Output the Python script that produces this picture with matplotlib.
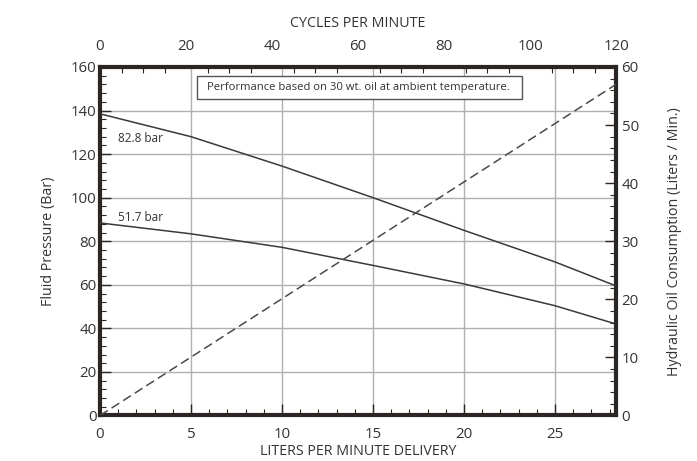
import matplotlib
matplotlib.use("Agg")
import matplotlib.pyplot as plt
from matplotlib.patches import Rectangle
from matplotlib.ticker import MultipleLocator

plt.rcParams["font.family"] = ["Open Sans", "DejaVu Sans"]

# liters per minute delivery (bottom axis)
liters = [0, 5, 10, 15, 20, 25, 28.35]
# fluid pressure curves (bar)
p_828 = [138.5, 128, 114.5, 100, 85, 70.5, 59.5]
p_517 = [88.4, 83.4, 77.2, 68.9, 60.4, 50.4, 42]
# hydraulic oil consumption (liters / min), right axis
oil_x = [0, 28.35]
oil_y = [0, 57]

X_MAX = 28.35
INK = "#2b2523"
TXT = "#333333"
GRID = "#b0b0b0"

fig = plt.figure(figsize=(6.97, 4.61), dpi=100)
ax = fig.add_axes([0.1435, 0.0987, 0.7403, 0.756])

ax.plot(liters, p_828, color="#3a3a3a", lw=1.1, zorder=3)
ax.plot(liters, p_517, color="#3a3a3a", lw=1.1, zorder=3)

ax.set_xlim(0, X_MAX)
ax.set_ylim(0, 160)
ax.xaxis.set_major_locator(MultipleLocator(5))
ax.xaxis.set_minor_locator(MultipleLocator(1))
ax.yaxis.set_major_locator(MultipleLocator(20))
ax.yaxis.set_minor_locator(MultipleLocator(4))
ax.grid(True, which="major", color=GRID, lw=1.0)
ax.set_axisbelow(True)

for s in ax.spines.values():
    s.set_linewidth(3)
    s.set_color(INK)

ax.tick_params(which="both", direction="in", colors=INK, labelcolor=TXT,
               labelsize=10.8)
ax.tick_params(axis="x", pad=8)
ax.tick_params(axis="y", pad=2.5)
ax.tick_params(which="major", length=8, width=1)
ax.tick_params(which="minor", length=4, width=0.8)
ax.set_xlabel("LITERS PER MINUTE DELIVERY", fontsize=10.3, color=TXT, labelpad=2)
ax.set_ylabel("Fluid Pressure (Bar)", fontsize=10.3, color=TXT, labelpad=11)

# top axis: cycles per minute
top = ax.twiny()
top.set_xlim(0, 120)
top.xaxis.set_major_locator(MultipleLocator(20))
top.xaxis.set_minor_locator(MultipleLocator(5))
top.tick_params(which="both", direction="in", colors=INK, labelcolor=TXT,
                labelsize=10.8, pad=9)
top.tick_params(which="major", length=0)
top.tick_params(which="minor", length=4, width=0.8)
top.set_xlabel("CYCLES PER MINUTE", fontsize=10.3, color=TXT, labelpad=9)
for s in top.spines.values():
    s.set_visible(False)

# right axis: oil consumption
right = ax.twinx()
right.plot(oil_x, oil_y, color="#4a4a4a", lw=1.1, dashes=(6, 3), zorder=3)
right.set_ylim(0, 60)
right.set_xlim(0, X_MAX)
right.yaxis.set_major_locator(MultipleLocator(10))
right.yaxis.set_minor_locator(MultipleLocator(2))
right.tick_params(which="both", direction="in", colors=INK, labelcolor=TXT,
                  labelsize=10.8, pad=4)
right.tick_params(which="major", length=8, width=1)
right.tick_params(which="minor", length=4, width=0.8)
right.set_ylabel("Hydraulic Oil Consumption (Liters / Min.)", fontsize=10.3,
                 color=TXT, labelpad=20)
for s in right.spines.values():
    s.set_visible(False)

ax.text(1.0, 127, "82.8 bar", fontsize=8.5, color=TXT, va="center")
ax.text(1.0, 91, "51.7 bar", fontsize=8.5, color=TXT, va="center")
ax.add_patch(Rectangle((0.1874, 0.9086), 0.6296, 0.065, transform=ax.transAxes,
                       fc="white", ec="#555555", lw=1, zorder=4))
ax.text(0.5, 0.941, "Performance based on 30 wt. oil at ambient temperature.",
        transform=ax.transAxes, fontsize=8.1, color=TXT, ha="center",
        va="center", zorder=5)

fig.savefig("out.png", dpi=100)
